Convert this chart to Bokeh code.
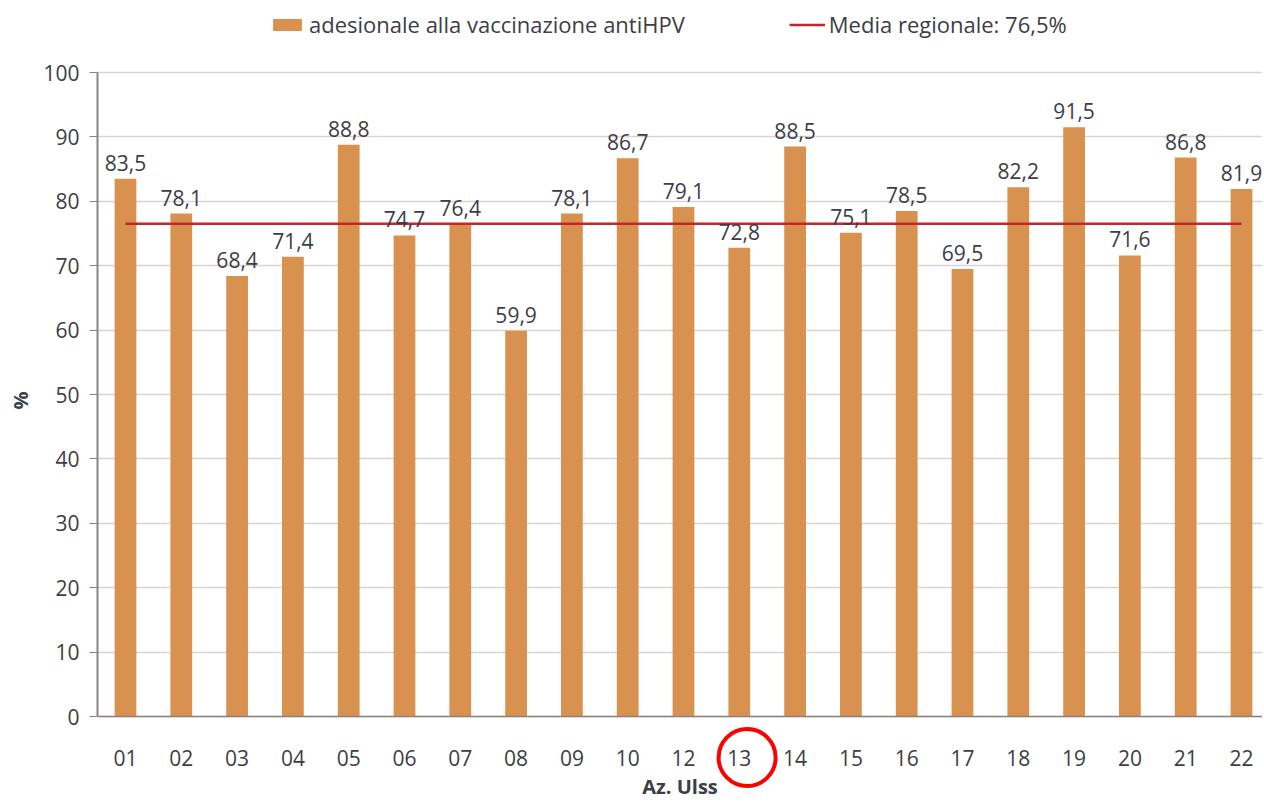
from bokeh.plotting import figure
from bokeh.models import (Range1d, FixedTicker, Legend, LegendItem, ColumnDataSource)
from bokeh.core.properties import value
from bokeh.embed import file_html
from bokeh.resources import INLINE

# ---- data ----
ulss = ["01", "02", "03", "04", "05", "06", "07", "08", "09", "10", "12",
        "13", "14", "15", "16", "17", "18", "19", "20", "21", "22"]
adesione = [83.5, 78.1, 68.4, 71.4, 88.8, 74.7, 76.4, 59.9, 78.1, 86.7, 79.1,
            72.8, 88.5, 75.1, 78.5, 69.5, 82.2, 91.5, 71.6, 86.8, 81.9]
media_regionale = 76.5
highlight = "13"
y_ticks = list(range(0, 101, 10))
serie_label = "adesionale alla vaccinazione antiHPV"
media_label = "Media regionale: " + f"{media_regionale:.1f}".replace(".", ",") + "%"

# ---- style / layout ----
FONT = "Open Sans"
TEXT = "#3D3D45"
BAR = "#D9914F"
RED = "#C0282D"
GRID = "#D9D3D3"
AXIS = "#8C8282"

W, H = 1262, 800
LEFT = 97                 # plot-area left edge (px)
TOP_PX, ZERO_PX = 72, 716  # pixel rows of 100 and 0
PX_PER_UNIT = (ZERO_PX - TOP_PX) / 100.0
X0_PX, X_STEP = 125, 55.8

idx = list(range(len(ulss)))
labels = [f"{v:.1f}".replace(".", ",") for v in adesione]
src = ColumnDataSource(dict(x=idx, y=adesione, label=labels))

x_start = -(X0_PX - LEFT) / X_STEP
x_end = (W - X0_PX) / X_STEP
y_end = 100 + TOP_PX / PX_PER_UNIT
y_start = -(H - ZERO_PX) / PX_PER_UNIT

p = figure(width=W, height=H, output_backend="svg", toolbar_location=None,
           x_range=Range1d(x_start, x_end), y_range=Range1d(y_start, y_end),
           min_border_left=LEFT, min_border_right=0, min_border_top=0,
           min_border_bottom=0)
p.outline_line_color = None
p.background_fill_color = "white"

bars = p.vbar(x="x", top="y", width=0.39, source=src, fill_color=BAR,
              line_color=None)
line = p.line(x=[idx[0], idx[-1]], y=[media_regionale, media_regionale],
              line_color=RED, line_width=2.5)
p.text(x="x", y="y", text="label", source=src, text_align="center",
       text_baseline="bottom", y_offset=-8, text_font=value(FONT),
       text_font_size="21px", text_color=TEXT)

# axes
p.xgrid.visible = False
p.ygrid.ticker = FixedTicker(ticks=y_ticks)
p.ygrid.grid_line_color = GRID
p.ygrid.grid_line_width = 1.5

ya = p.yaxis[0]
ya.ticker = FixedTicker(ticks=y_ticks)
ya.bounds = (y_ticks[0], y_ticks[-1])
ya.minor_tick_line_color = None
ya.major_tick_in = 0
ya.major_tick_out = 8
ya.major_tick_line_color = AXIS
ya.axis_line_color = AXIS
ya.axis_line_width = 2
ya.major_label_standoff = 10
ya.major_label_text_font = FONT
ya.major_label_text_font_size = "21px"
ya.major_label_text_color = TEXT
ya.axis_label = "%"
ya.axis_label_text_font = FONT
ya.axis_label_text_font_style = "bold"
ya.axis_label_text_font_size = "20px"
ya.axis_label_text_color = TEXT
ya.axis_label_standoff = 6

xa = p.xaxis[0]
xa.fixed_location = 0
xa.ticker = FixedTicker(ticks=idx)
xa.major_label_overrides = {i: u for i, u in zip(idx, ulss)}
xa.minor_tick_line_color = None
xa.major_tick_in = 0
xa.major_tick_out = 0
xa.axis_line_color = AXIS
xa.axis_line_width = 1.5
xa.major_label_standoff = 33
xa.major_label_text_font = FONT
xa.major_label_text_font_size = "21px"
xa.major_label_text_color = TEXT
xa.axis_label = "Az. Ulss"
xa.axis_label_text_font = FONT
xa.axis_label_text_font_style = "bold"
xa.axis_label_text_font_size = "20px"
xa.axis_label_text_color = TEXT
xa.axis_label_standoff = 4

# legend (top of the picture, inside the drawing area)
legend = Legend(items=[LegendItem(label=serie_label, renderers=[bars]),
                       LegendItem(label=media_label, renderers=[line])],
                orientation="horizontal", location=(269 - LEFT, H - 39),
                glyph_width=36, glyph_height=15, label_standoff=4, spacing=104,
                padding=4, margin=0, border_line_color=None,
                background_fill_alpha=0, label_text_font=FONT,
                label_text_font_size="22px", label_text_color=TEXT)
p.add_layout(legend, "center")

# highlight circle around the "13" tick label
h = ulss.index(highlight)
p.scatter(x=[h + 0.14], y=[-41 / PX_PER_UNIT], marker="circle", size=57,
          fill_color=None, line_color="#FF0000", line_width=4)

open("out.html", "w").write(file_html(p, INLINE))
